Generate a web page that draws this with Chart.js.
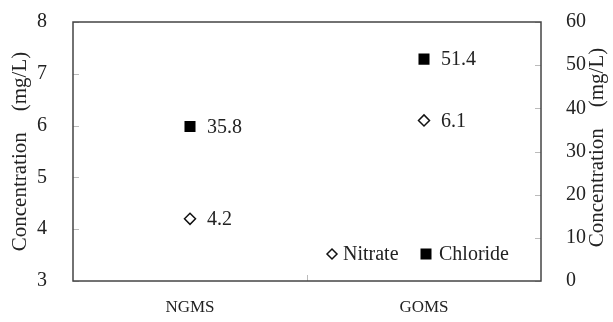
<!DOCTYPE html>
<html>
<head>
<meta charset="utf-8">
<script src="https://cdn.jsdelivr.net/npm/chart.js@4"></script>
<style>
  html, body { margin: 0; padding: 0; background: #fff; }
  #wrap { width: 613px; height: 322px; }
</style>
</head>
<body>
<div id="wrap"><canvas id="myChart" width="613" height="322"></canvas></div>
<script>
// Data
const categories = ['NGMS', 'GOMS'];
const nitrate = [4.2, 6.1];      // left axis
const chloride = [35.8, 51.4];   // right axis
const seriesNames = ['Nitrate', 'Chloride'];
const axisTitle = 'Concentration\u3000(mg/L)';

const FONT = "'Liberation Serif', 'DejaVu Serif', serif";
const INK = '#222';

// inner tick marks, frame and right-hand title
const framePlugin = {
    id: 'frame',
    afterDatasetsDraw(chart) {
        const { ctx, chartArea: a, scales } = chart;
        ctx.save();
        ctx.strokeStyle = '#bbb';
        ctx.lineWidth = 1;
        ctx.beginPath();
        scales.y.ticks.forEach(t => {
            const y = Math.round(scales.y.getPixelForValue(t.value)) + 0.5;
            ctx.moveTo(a.left, y); ctx.lineTo(a.left + 6, y);
        });
        scales.y1.ticks.forEach(t => {
            const y = Math.round(scales.y1.getPixelForValue(t.value)) + 0.5;
            ctx.moveTo(a.right, y); ctx.lineTo(a.right - 6, y);
        });
        const mid = Math.round((a.left + a.right) / 2) + 0.5;
        ctx.moveTo(mid, a.bottom); ctx.lineTo(mid, a.bottom - 6);
        ctx.stroke();
        ctx.strokeStyle = '#444';
        ctx.lineWidth = 1.5;
        ctx.strokeRect(a.left, a.top, a.right - a.left, a.bottom - a.top);

        // right axis title, reading bottom to top like the left one
        ctx.translate(597, (a.top + a.bottom) / 2 - 4);
        ctx.rotate(-Math.PI / 2);
        ctx.font = '21px ' + FONT;
        ctx.fillStyle = INK;
        ctx.textAlign = 'center';
        ctx.textBaseline = 'middle';
        ctx.fillText(axisTitle, 0, 0);
        ctx.restore();
    }
};

// value labels next to points
const labelPlugin = {
    id: 'pointLabels',
    afterDatasetsDraw(chart) {
        const { ctx } = chart;
        ctx.save();
        ctx.font = '20px ' + FONT;
        ctx.fillStyle = INK;
        ctx.textAlign = 'left';
        ctx.textBaseline = 'middle';
        chart.data.datasets.forEach((ds, i) => {
            chart.getDatasetMeta(i).data.forEach((pt, j) => {
                ctx.fillText(ds.data[j].toFixed(1), pt.x + 17, pt.y + 1);
            });
        });
        ctx.restore();
    }
};

// legend drawn inside the plot, bottom right
const legendPlugin = {
    id: 'innerLegend',
    afterDraw(chart) {
        const { ctx, chartArea: a } = chart;
        const y = a.bottom - 27;
        ctx.save();
        ctx.font = '20px ' + FONT;
        ctx.textBaseline = 'middle';
        // Nitrate
        let x = 332;
        ctx.beginPath();
        ctx.moveTo(x - 5, y); ctx.lineTo(x, y - 5); ctx.lineTo(x + 5, y); ctx.lineTo(x, y + 5); ctx.closePath();
        ctx.fillStyle = '#fff'; ctx.fill();
        ctx.strokeStyle = '#111'; ctx.lineWidth = 1.5; ctx.stroke();
        ctx.fillStyle = INK;
        ctx.fillText(seriesNames[0], x + 11, y + 1);
        // Chloride
        x = 426;
        ctx.fillStyle = '#000';
        ctx.fillRect(x - 5.5, y - 5.5, 11, 11);
        ctx.fillStyle = INK;
        ctx.fillText(seriesNames[1], x + 13, y + 1);
        ctx.restore();
    }
};

// keep the plot box where the reference has it
const fitY = w => s => { s.width = w; s.paddingTop = 0; s.paddingBottom = 0; };

document.addEventListener('DOMContentLoaded', function () {
    const ctx = document.getElementById('myChart').getContext('2d');
    new Chart(ctx, {
        type: 'line',
        data: {
            labels: categories,
            datasets: [{
                label: seriesNames[0],
                data: nitrate,
                yAxisID: 'y',
                showLine: false,
                pointStyle: 'rectRot',
                pointRadius: 5.5,
                pointBackgroundColor: '#fff',
                pointBorderColor: '#111',
                pointBorderWidth: 1.5
            }, {
                label: seriesNames[1],
                data: chloride,
                yAxisID: 'y1',
                showLine: false,
                pointStyle: 'rect',
                pointRadius: 7.8,
                pointBackgroundColor: '#000',
                pointBorderColor: '#000',
                pointBorderWidth: 0
            }]
        },
        options: {
            responsive: false,
            animation: false,
            layout: { padding: { top: 22, left: 0, right: 0, bottom: 0 } },
            plugins: {
                legend: { display: false },
                tooltip: { enabled: false }
            },
            scales: {
                x: {
                    offset: true,
                    grid: { display: false },
                    border: { display: false },
                    ticks: { color: INK, font: { family: FONT, size: 17 }, padding: 8 },
                    afterFit: s => { s.height = 41; s.paddingLeft = 0; s.paddingRight = 0; }
                },
                y: {
                    position: 'left',
                    min: 3, max: 8,
                    ticks: { stepSize: 1, color: INK, font: { family: FONT, size: 20 }, padding: 18 },
                    grid: { display: false },
                    border: { display: false },
                    title: {
                        display: true, text: axisTitle, color: INK,
                        font: { family: FONT, size: 21 }, padding: { top: 8, bottom: 0 }
                    },
                    afterFit: fitY(73)
                },
                y1: {
                    position: 'right',
                    min: 0, max: 60,
                    ticks: { stepSize: 10, color: INK, font: { family: FONT, size: 20 }, padding: 17 },
                    grid: { display: false },
                    border: { display: false },
                    afterFit: fitY(72)
                }
            }
        },
        plugins: [framePlugin, labelPlugin, legendPlugin]
    });
});
</script>
</body>
</html>
